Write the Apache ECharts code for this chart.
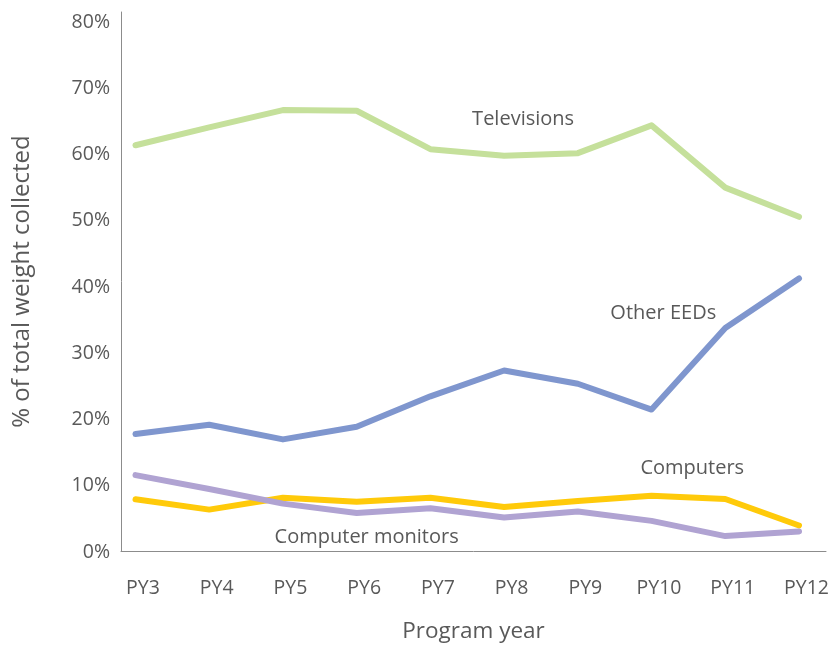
<!DOCTYPE html>
<html>
<head>
<meta charset="utf-8">
<script src="https://cdn.jsdelivr.net/npm/echarts@6/dist/echarts.min.js"></script>
<style>html,body{margin:0;padding:0;background:#fff}#c{width:832px;height:648px}</style>
</head>
<body>
<div id="c"></div>
<script>
const categories = ['PY3','PY4','PY5','PY6','PY7','PY8','PY9','PY10','PY11','PY12'];
const televisions = [61.4, 64.1, 66.7, 66.6, 60.8, 59.8, 60.2, 64.4, 55.0, 50.6];
const otherEEDs = [17.8, 19.2, 17.0, 18.9, 23.5, 27.4, 25.4, 21.5, 33.8, 41.3];
const computers = [7.95, 6.4, 8.2, 7.6, 8.2, 6.8, 7.7, 8.5, 8.0, 4.0];
const monitors = [11.6, 9.5, 7.3, 5.9, 6.6, 5.2, 6.1, 4.7, 2.4, 3.1];
const yTicks = [0, 10, 20, 30, 40, 50, 60, 70, 80];

const textColor = '#595959';
const fontFamily = '"Open Sans", "Noto Sans", sans-serif';

function nameMark(values, name, idx, offset) {
  return {
    symbol: 'circle', symbolSize: 0, silent: true,
    data: [{
      coord: [categories[idx], values[idx]],
      label: {
        show: true, formatter: name, position: 'inside', offset: offset,
        color: textColor, fontSize: 20, fontFamily: fontFamily
      }
    }]
  };
}

const chart = echarts.init(document.getElementById('c'), null, {renderer: 'canvas'});
chart.setOption({
  backgroundColor: '#ffffff',
  animation: false,
  grid: [
    {left: 135.5, right: 33, top: 22, bottom: 96},
    {left: 121, right: 6, top: 12, bottom: 96}
  ],
  xAxis: [
    {
      gridIndex: 0, type: 'category', data: categories, boundaryGap: false,
      axisLine: {show: false}, axisTick: {show: false}, splitLine: {show: false},
      axisLabel: {color: textColor, fontSize: 19.5, fontFamily: fontFamily, margin: 26, padding: [0, 0, 0, 15]}
    },
    {
      gridIndex: 1, type: 'value', min: 0, max: 1,
      axisLine: {show: true, lineStyle: {color: '#8c8c8c', width: 1}},
      axisTick: {show: false}, axisLabel: {show: false}, splitLine: {show: false},
      name: 'Program year', nameLocation: 'middle', nameGap: 69,
      nameTextStyle: {color: textColor, fontSize: 22.5, fontFamily: fontFamily}
    }
  ],
  yAxis: [
    {
      gridIndex: 0, type: 'value', min: 0, max: 80, interval: 10, offset: 14.5,
      axisLine: {show: false}, axisTick: {show: false}, splitLine: {show: false},
      axisLabel: {color: textColor, fontSize: 19.5, fontFamily: fontFamily, margin: 11,
        formatter: v => yTicks.includes(v) ? v + '%' : ''}
    },
    {
      gridIndex: 1, type: 'value', min: 0, max: 1,
      axisLine: {show: true, lineStyle: {color: '#8c8c8c', width: 1}},
      axisTick: {show: false}, axisLabel: {show: false}, splitLine: {show: false},
      name: '% of total weight collected', nameLocation: 'middle', nameGap: 87,
      nameTextStyle: {color: textColor, fontSize: 24, fontFamily: fontFamily}
    }
  ],
  series: [
    {
      name: 'Televisions', type: 'line', xAxisIndex: 0, yAxisIndex: 0, data: televisions,
      symbol: 'none', lineStyle: {color: '#c5e09b', width: 6, cap: 'round', join: 'round'},
      markPoint: nameMark(televisions, 'Televisions', 5, [19, -37])
    },
    {
      name: 'Other EEDs', type: 'line', xAxisIndex: 0, yAxisIndex: 0, data: otherEEDs,
      symbol: 'none', lineStyle: {color: '#7f96ce', width: 6, cap: 'round', join: 'round'},
      markPoint: nameMark(otherEEDs, 'Other EEDs', 8, [-62, -15])
    },
    {
      name: 'Computers', type: 'line', xAxisIndex: 0, yAxisIndex: 0, data: computers,
      symbol: 'none', lineStyle: {color: '#ffca0a', width: 6, cap: 'round', join: 'round'},
      markPoint: nameMark(computers, 'Computers', 8, [-33, -31])
    },
    {
      name: 'Computer monitors', type: 'line', xAxisIndex: 0, yAxisIndex: 0, data: monitors,
      symbol: 'none', lineStyle: {color: '#b0a3d2', width: 6, cap: 'round', join: 'round'},
      markPoint: nameMark(monitors, 'Computer monitors', 3, [10, 24])
    }
  ]
});
</script>
</body>
</html>
